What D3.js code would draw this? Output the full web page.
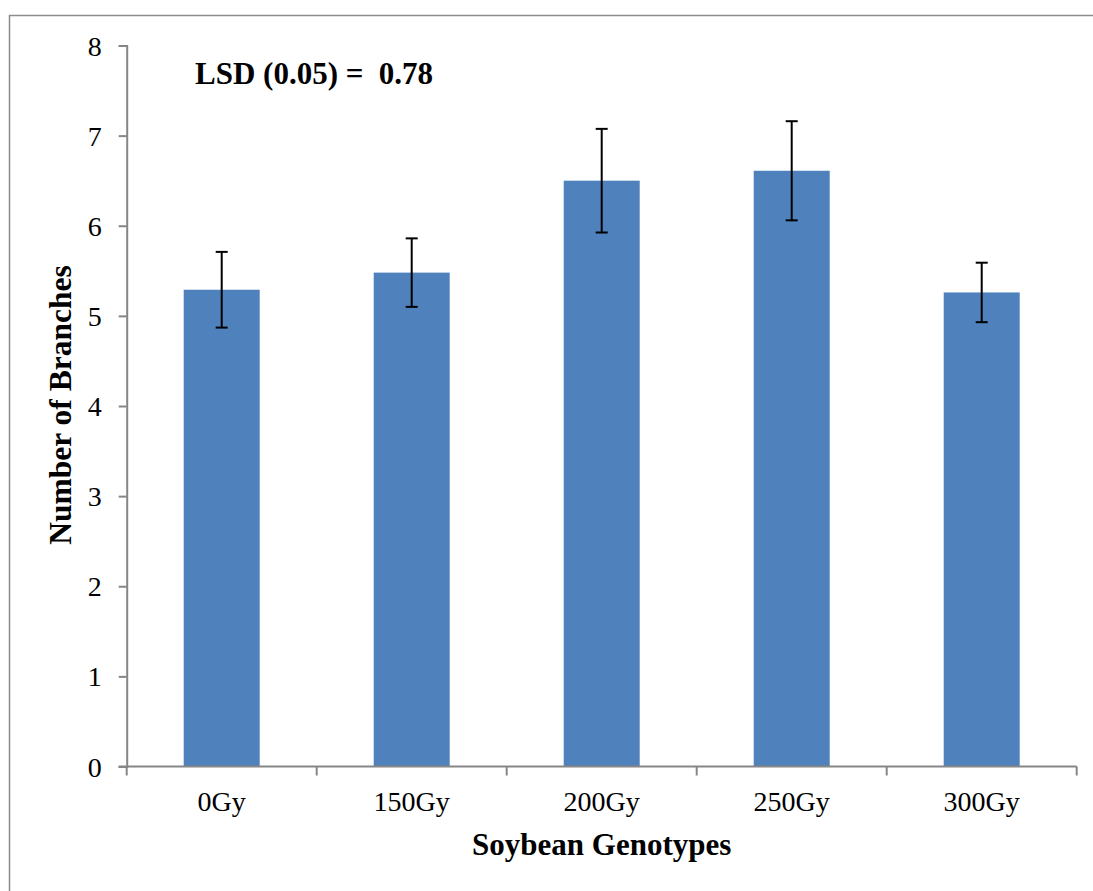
<!DOCTYPE html>
<html>
<head>
<meta charset="utf-8">
<script src="https://cdn.jsdelivr.net/npm/d3@7"></script>
<style>
  body { margin: 0; background: #fff; }
  text { font-family: "Liberation Serif", "Times New Roman", serif; }
</style>
</head>
<body>
<script>
var categories = ["0Gy", "150Gy", "200Gy", "250Gy", "300Gy"];
var values = [5.29, 5.48, 6.50, 6.61, 5.26];
var errors = [0.42, 0.38, 0.575, 0.55, 0.33];
var yTicks = [0, 1, 2, 3, 4, 5, 6, 7, 8];

var width = 1093, height = 891;

var svg = d3.select("body").append("svg")
    .attr("width", width)
    .attr("height", height);

// outer frame
svg.append("rect")
    .attr("x", 9.5).attr("y", 15.5)
    .attr("width", 1100).attr("height", 900)
    .attr("fill", "none")
    .attr("stroke", "#8c8c8c")
    .attr("stroke-width", 1.5);

var plotLeft = 126.7, plotRight = 1076.7, plotTop = 45.5, plotBottom = 766.5;

var xScale = d3.scaleBand().domain(categories).range([plotLeft, plotRight]).paddingInner(0.6).paddingOuter(0.3),
    yScale = d3.scaleLinear().domain([0, 8]).range([plotBottom, plotTop]);
var xBand = d3.scaleBand().domain(categories).range([plotLeft, plotRight]);

// bars
svg.selectAll(".bar")
    .data(values)
    .enter().append("rect")
    .attr("class", "bar")
    .attr("x", function(d, i) { return xScale(categories[i]); })
    .attr("y", function(d) { return yScale(d); })
    .attr("width", xScale.bandwidth())
    .attr("height", function(d) { return yScale(0) - yScale(d); })
    .attr("fill", "#4f81bd");

// error bars
var eb = svg.selectAll(".err")
    .data(values)
    .enter().append("g")
    .attr("class", "err")
    .attr("stroke", "#000")
    .attr("stroke-width", 2);
eb.append("line")
    .attr("x1", function(d, i) { return xBand(categories[i]) + xBand.bandwidth() / 2; })
    .attr("x2", function(d, i) { return xBand(categories[i]) + xBand.bandwidth() / 2; })
    .attr("y1", function(d, i) { return yScale(d + errors[i]); })
    .attr("y2", function(d, i) { return yScale(d - errors[i]); });
[1, -1].forEach(function(s) {
  eb.append("line")
    .attr("x1", function(d, i) { return xBand(categories[i]) + xBand.bandwidth() / 2 - 6; })
    .attr("x2", function(d, i) { return xBand(categories[i]) + xBand.bandwidth() / 2 + 6; })
    .attr("y1", function(d, i) { return yScale(d + s * errors[i]); })
    .attr("y2", function(d, i) { return yScale(d + s * errors[i]); });
});

// y axis
var yAxis = svg.append("g")
    .attr("transform", "translate(" + plotLeft + ",0)")
    .call(d3.axisLeft(yScale).tickValues(yTicks).tickSize(8).tickPadding(17).tickFormat(d3.format("d")));
yAxis.select(".domain").attr("stroke", "#868686").attr("stroke-width", 2);
yAxis.selectAll(".tick line").attr("stroke", "#868686").attr("stroke-width", 2);
yAxis.selectAll(".tick text")
    .attr("fill", "#000")
    .style("font-size", "28px")
    .style("font-family", "'Liberation Serif', serif")
    .attr("dy", "0.34em");

// x axis
var xAxis = svg.append("g")
    .attr("transform", "translate(0," + plotBottom + ")")
    .call(d3.axisBottom(xBand).tickSize(0).tickPadding(25));
xAxis.select(".domain").attr("stroke", "#868686").attr("stroke-width", 2)
    .attr("d", "M" + (plotLeft - 8) + ",0H" + plotRight);
xAxis.selectAll(".tick text")
    .attr("fill", "#000")
    .style("font-size", "28px")
    .style("font-family", "'Liberation Serif', serif")
    .attr("dy", "0.71em");
xAxis.selectAll(".bnd")
    .data(categories.concat(["end"]))
    .enter().append("line")
    .attr("x1", function(d, i) { return i < categories.length ? xBand(d) : plotRight; })
    .attr("x2", function(d, i) { return i < categories.length ? xBand(d) : plotRight; })
    .attr("y1", 0).attr("y2", 9)
    .attr("stroke", "#868686").attr("stroke-width", 2);

// titles
svg.append("text")
    .attr("x", (plotLeft + plotRight) / 2)
    .attr("y", 855)
    .attr("text-anchor", "middle")
    .style("font-size", "31px")
    .style("font-weight", "bold")
    .text("Soybean Genotypes");

svg.append("text")
    .attr("transform", "translate(71,405) rotate(-90)")
    .attr("text-anchor", "middle")
    .style("font-size", "31.5px")
    .style("font-weight", "bold")
    .text("Number of Branches");

svg.append("text")
    .attr("x", 195)
    .attr("y", 84)
    .style("font-size", "31px")
    .style("font-weight", "bold")
    .style("white-space", "pre")
    .text("LSD (0.05) =  0.78");
</script>
</body>
</html>
